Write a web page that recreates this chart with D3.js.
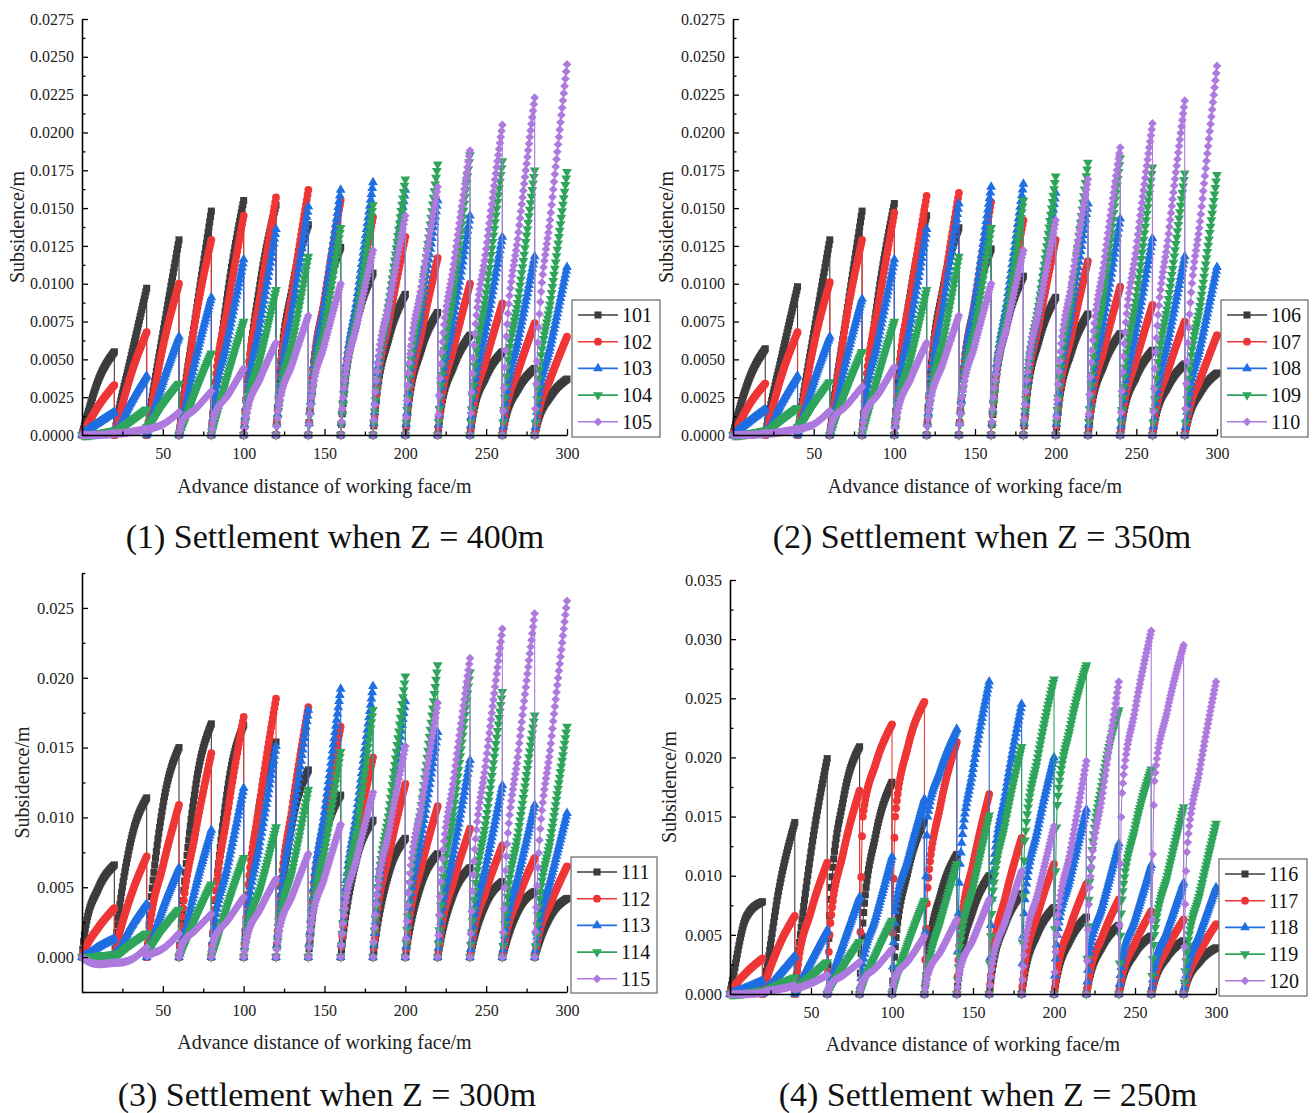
<!DOCTYPE html>
<html><head><meta charset="utf-8">
<script src="https://cdn.jsdelivr.net/npm/d3@7"></script>
<style>body{margin:0;background:#fff}</style>
</head><body>
<svg id="chart" width="1314" height="1113"></svg>
<script>
// ---------- shared structure ----------
const knotOffsets = [0, 2, 10, 20];          // offsets (m) of start / early / mid / peak inside each 20 m step
const stepLength = 20;
const xTicks = [50, 100, 150, 200, 250, 300];
const xTickLabels = ["50", "100", "150", "200", "250", "300"];
const xMinorTicks = [25, 75, 125, 175, 225, 275];
const yTicks12 = [0, 0.0025, 0.005, 0.0075, 0.01, 0.0125, 0.015, 0.0175, 0.02, 0.0225, 0.025, 0.0275];
const yTickLabels12 = ["0.0000","0.0025","0.0050","0.0075","0.0100","0.0125","0.0150","0.0175","0.0200","0.0225","0.0250","0.0275"];
const yMinor12 = [0.00125,0.00375,0.00625,0.00875,0.01125,0.01375,0.01625,0.01875,0.02125,0.02375,0.02625];
const yTicks3 = [0, 0.005, 0.01, 0.015, 0.02, 0.025];
const yTickLabels3 = ["0.000","0.005","0.010","0.015","0.020","0.025"];
const yMinor3 = [-0.0025, 0.0025, 0.0075, 0.0125, 0.0175, 0.0225, 0.0275];
const yTicks4 = [0, 0.005, 0.01, 0.015, 0.02, 0.025, 0.03, 0.035];
const yTickLabels4 = ["0.000","0.005","0.010","0.015","0.020","0.025","0.030","0.035"];
const yMinor4 = [0.0025, 0.0075, 0.0125, 0.0175, 0.0225, 0.0275, 0.0325];
const captions = ["(1) Settlement when Z = 400m", "(2) Settlement when Z = 350m", "(3) Settlement when Z = 300m", "(4) Settlement when Z = 250m"];
const names1 = ["101","102","103","104","105"];
const names2 = ["106","107","108","109","110"];
const names3 = ["111","112","113","114","115"];
const names4 = ["116","117","118","119","120"];
const Z0 = [0,0,0,0,0,0,0,0,0,0,0,0,0,0,0];

// ---------- Panel 1 (Z = 400 m) ----------
const s101 = Z0;
const e101 = [0.0008,0.0012,0.0015,0.0018,0.0023,0.0030,0.0035,0.0031,0.0027,0.0023,0.0020,0.0017,0.0014,0.0011,0.0009];
const m101 = [0.0036,0.0050,0.0067,0.0077,0.0093,0.0099,0.0097,0.0087,0.0075,0.0065,0.0057,0.0046,0.0039,0.0031,0.0026];
const p101 = [0.0055,0.0097,0.0129,0.0148,0.0155,0.0152,0.0139,0.0124,0.0107,0.0093,0.0081,0.0066,0.0055,0.0044,0.0037];
const s102 = Z0;
const e102 = [0.0004,0.0008,0.0012,0.0015,0.0029,0.0031,0.0032,0.0031,0.0029,0.0026,0.0023,0.0020,0.0017,0.0015,0.0013];
const m102 = [0.0019,0.0039,0.0058,0.0075,0.0084,0.0091,0.0094,0.0090,0.0084,0.0076,0.0068,0.0058,0.0050,0.0043,0.0038];
const p102 = [0.0033,0.0068,0.0100,0.0129,0.0145,0.0157,0.0162,0.0155,0.0144,0.0131,0.0117,0.0100,0.0087,0.0074,0.0065];
const s103 = [0,0.0002,0,0,0,0,0,0,0,0,0,0,0,0,0];
const e103 = [0.0002,0.0004,0.0007,0.0009,0.0021,0.0024,0.0027,0.0029,0.0030,0.0029,0.0028,0.0026,0.0024,0.0021,0.0020];
const m103 = [0.0008,0.0021,0.0035,0.0049,0.0063,0.0073,0.0082,0.0087,0.0090,0.0087,0.0084,0.0078,0.0071,0.0064,0.0060];
const p103 = [0.0015,0.0039,0.0065,0.0091,0.0116,0.0136,0.0151,0.0162,0.0167,0.0162,0.0155,0.0145,0.0131,0.0118,0.0111];
const s104 = [0,0.0002,0.0005,0,0,0,0,0,0,0,0,0,0,0,0];
const e104 = [0.0000,0.0003,0.0007,0.0005,0.0008,0.0017,0.0021,0.0025,0.0027,0.0030,0.0032,0.0033,0.0033,0.0032,0.0031];
const m104 = [0.0001,0.0009,0.0020,0.0028,0.0039,0.0050,0.0061,0.0071,0.0079,0.0088,0.0093,0.0096,0.0094,0.0091,0.0090];
const p104 = [0.0003,0.0017,0.0034,0.0054,0.0075,0.0096,0.0118,0.0137,0.0152,0.0169,0.0179,0.0185,0.0181,0.0175,0.0174];
const s105 = [0,0.0001,0.0003,0,0,0,0,0,0,0,0,0,0,0,0];
const e105 = [0.0000,0.0001,0.0004,0.0009,0.0013,0.0015,0.0020,0.0025,0.0031,0.0036,0.0041,0.0047,0.0051,0.0056,0.0061];
const m105 = [0.0000,0.0002,0.0007,0.0017,0.0026,0.0037,0.0047,0.0060,0.0073,0.0087,0.0098,0.0113,0.0123,0.0134,0.0147];
const p105 = [0.0001,0.0004,0.0015,0.0029,0.0044,0.0061,0.0079,0.0100,0.0122,0.0145,0.0164,0.0188,0.0205,0.0223,0.0245];

// ---------- Panel 2 (Z = 350 m) ----------
const s106 = Z0;
const e106 = [0.0009,0.0012,0.0015,0.0018,0.0023,0.0029,0.0034,0.0031,0.0026,0.0023,0.0020,0.0017,0.0014,0.0012,0.0010];
const m106 = [0.0037,0.0051,0.0067,0.0077,0.0092,0.0094,0.0096,0.0086,0.0074,0.0064,0.0056,0.0047,0.0039,0.0033,0.0029];
const p106 = [0.0057,0.0098,0.0129,0.0148,0.0153,0.0145,0.0137,0.0123,0.0105,0.0091,0.0080,0.0067,0.0056,0.0047,0.0041];
const s107 = Z0;
const e107 = [0.0004,0.0008,0.0012,0.0015,0.0029,0.0032,0.0032,0.0031,0.0028,0.0026,0.0023,0.0020,0.0017,0.0015,0.0013];
const m107 = [0.0020,0.0039,0.0059,0.0075,0.0085,0.0092,0.0093,0.0089,0.0082,0.0075,0.0067,0.0057,0.0050,0.0044,0.0038];
const p107 = [0.0034,0.0068,0.0101,0.0129,0.0147,0.0158,0.0160,0.0154,0.0142,0.0129,0.0115,0.0098,0.0086,0.0075,0.0066];
const s108 = [0,0.0002,0,0,0,0,0,0,0,0,0,0,0,0,0];
const e108 = [0.0002,0.0004,0.0007,0.0009,0.0021,0.0024,0.0028,0.0030,0.0030,0.0029,0.0028,0.0026,0.0023,0.0021,0.0020];
const m108 = [0.0009,0.0021,0.0035,0.0049,0.0063,0.0073,0.0083,0.0089,0.0090,0.0086,0.0083,0.0077,0.0070,0.0064,0.0060];
const p108 = [0.0017,0.0039,0.0065,0.0090,0.0116,0.0136,0.0153,0.0164,0.0166,0.0160,0.0153,0.0143,0.0130,0.0118,0.0111];
const s109 = [0,0.0002,0.0005,0,0,0,0,0,0,0,0,0,0,0,0];
const e109 = [0.0000,0.0003,0.0007,0.0006,0.0008,0.0017,0.0021,0.0025,0.0028,0.0031,0.0032,0.0033,0.0032,0.0031,0.0031];
const m109 = [0.0001,0.0010,0.0020,0.0029,0.0039,0.0050,0.0061,0.0071,0.0081,0.0089,0.0094,0.0095,0.0092,0.0090,0.0089];
const p109 = [0.0003,0.0018,0.0035,0.0055,0.0075,0.0096,0.0118,0.0137,0.0155,0.0171,0.0180,0.0183,0.0177,0.0173,0.0172];
const s110 = [0,0.0001,0.0003,0,0,0,0,0,0,0,0,0,0,0,0];
const e110 = [0.0000,0.0001,0.0004,0.0010,0.0014,0.0015,0.0020,0.0025,0.0031,0.0036,0.0042,0.0048,0.0052,0.0055,0.0061];
const m110 = [0.0000,0.0002,0.0007,0.0019,0.0027,0.0037,0.0047,0.0060,0.0073,0.0085,0.0101,0.0114,0.0124,0.0133,0.0146];
const p110 = [0.0001,0.0004,0.0016,0.0032,0.0045,0.0061,0.0079,0.0100,0.0122,0.0142,0.0169,0.0190,0.0206,0.0221,0.0244];

// ---------- Panel 3 (Z = 300 m) ----------
const s111 = Z0;
const e111 = [0.0020,0.0023,0.0030,0.0033,0.0033,0.0031,0.0027,0.0023,0.0020,0.0017,0.0015,0.0013,0.0011,0.0009,0.0008];
const m111 = [0.0049,0.0082,0.0108,0.0120,0.0120,0.0111,0.0096,0.0084,0.0071,0.0061,0.0053,0.0046,0.0039,0.0034,0.0030];
const p111 = [0.0066,0.0114,0.0150,0.0167,0.0166,0.0154,0.0134,0.0116,0.0098,0.0085,0.0074,0.0064,0.0054,0.0047,0.0042];
const s112 = Z0;
const e112 = [0.0006,0.0011,0.0022,0.0029,0.0034,0.0037,0.0036,0.0033,0.0029,0.0025,0.0022,0.0018,0.0016,0.0014,0.0013];
const m112 = [0.0021,0.0043,0.0065,0.0088,0.0103,0.0111,0.0107,0.0099,0.0086,0.0074,0.0065,0.0055,0.0048,0.0043,0.0039];
const p112 = [0.0035,0.0072,0.0109,0.0146,0.0172,0.0185,0.0179,0.0165,0.0143,0.0124,0.0108,0.0092,0.0080,0.0071,0.0065];
const s113 = [0,0.0002,0,0,0,0,0,0,0,0,0,0,0,0,0];
const e113 = [0.0001,0.0004,0.0007,0.0009,0.0022,0.0027,0.0032,0.0035,0.0035,0.0033,0.0029,0.0025,0.0022,0.0020,0.0019];
const m113 = [0.0007,0.0021,0.0035,0.0049,0.0065,0.0082,0.0096,0.0104,0.0105,0.0099,0.0087,0.0076,0.0066,0.0059,0.0056];
const p113 = [0.0013,0.0038,0.0064,0.0091,0.0121,0.0151,0.0177,0.0192,0.0194,0.0183,0.0161,0.0141,0.0123,0.0109,0.0103];
const s114 = [0,0.0001,0.0005,0,0,0,0,0,0,0,0,0,0,0,0];
const e114 = [0.0000,0.0002,0.0007,0.0005,0.0007,0.0017,0.0022,0.0026,0.0032,0.0036,0.0038,0.0037,0.0034,0.0031,0.0030];
const m114 = [0.0001,0.0009,0.0020,0.0027,0.0037,0.0048,0.0062,0.0076,0.0092,0.0105,0.0109,0.0106,0.0099,0.0090,0.0086];
const p114 = [0.0002,0.0017,0.0034,0.0052,0.0071,0.0093,0.0120,0.0147,0.0177,0.0201,0.0209,0.0204,0.0190,0.0173,0.0165];
const s115 = [0,-0.0004,0.0001,0,0,0,0,0,0,0,0,0,0,0,0];
const e115 = [-0.0002,-0.0004,0.0002,0.0009,0.0013,0.0014,0.0019,0.0024,0.0030,0.0038,0.0046,0.0054,0.0059,0.0062,0.0064];
const m115 = [-0.0005,-0.0002,0.0006,0.0019,0.0026,0.0034,0.0044,0.0057,0.0071,0.0091,0.0109,0.0128,0.0141,0.0148,0.0153];
const p115 = [-0.0004,0.0007,0.0017,0.0031,0.0043,0.0056,0.0074,0.0095,0.0118,0.0151,0.0182,0.0214,0.0235,0.0246,0.0255];

// ---------- Panel 4 (Z = 250 m) ----------
const s116 = Z0;
const e116 = [0.0015,0.0015,0.0030,0.0080,0.0060,0.0040,0.0030,0.0025,0.0021,0.0018,0.0016,0.0014,0.0012,0.0011,0.0010];
const m116 = [0.0065,0.0087,0.0120,0.0165,0.0135,0.0105,0.0084,0.0071,0.0060,0.0052,0.0046,0.0041,0.0035,0.0032,0.0028];
const p116 = [0.0078,0.0145,0.0199,0.0209,0.0179,0.0147,0.0118,0.0100,0.0085,0.0073,0.0065,0.0058,0.0049,0.0045,0.0039];
const s117 = Z0;
const e117 = [0.0005,0.0010,0.0025,0.0060,0.0150,0.0150,0.0090,0.0050,0.0030,0.0024,0.0020,0.0017,0.0015,0.0013,0.0012];
const m117 = [0.0018,0.0040,0.0070,0.0120,0.0195,0.0210,0.0160,0.0110,0.0082,0.0068,0.0057,0.0049,0.0043,0.0039,0.0036];
const p117 = [0.0030,0.0066,0.0111,0.0172,0.0228,0.0247,0.0213,0.0169,0.0132,0.0110,0.0093,0.0080,0.0070,0.0063,0.0059];
const s118 = Z0;
const e118 = [0.0001,0.0003,0.0006,0.0010,0.0025,0.0070,0.0150,0.0110,0.0095,0.0080,0.0050,0.0035,0.0028,0.0022,0.0020];
const m118 = [0.0005,0.0016,0.0028,0.0043,0.0065,0.0115,0.0190,0.0190,0.0170,0.0140,0.0098,0.0075,0.0063,0.0054,0.0051];
const p118 = [0.0011,0.0032,0.0054,0.0082,0.0116,0.0165,0.0224,0.0264,0.0245,0.0200,0.0156,0.0127,0.0109,0.0094,0.0090];
const s119 = [0,0.0002,0.0004,0,0,0,0,0,0,0,0,0,0,0,0];
const e119 = [0.0000,0.0003,0.0006,0.0005,0.0008,0.0010,0.0020,0.0040,0.0080,0.0130,0.0160,0.0095,0.0080,0.0050,0.0035];
const m119 = [0.0001,0.0008,0.0015,0.0023,0.0033,0.0043,0.0062,0.0090,0.0145,0.0200,0.0225,0.0180,0.0140,0.0100,0.0085];
const p119 = [0.0003,0.0014,0.0027,0.0044,0.0062,0.0079,0.0110,0.0151,0.0209,0.0266,0.0278,0.0240,0.0190,0.0158,0.0144];
const s120 = [0,0.0001,0.0004,0,0,0,0,0,0,0,0,0,0,0,0];
const e120 = [0.0000,0.0002,0.0005,0.0008,0.0011,0.0014,0.0016,0.0020,0.0026,0.0040,0.0060,0.0090,0.0170,0.0180,0.0120];
const m120 = [0.0000,0.0004,0.0009,0.0016,0.0022,0.0028,0.0036,0.0046,0.0062,0.0085,0.0120,0.0170,0.0240,0.0240,0.0190];
const p120 = [0.0001,0.0007,0.0016,0.0027,0.0038,0.0049,0.0063,0.0080,0.0104,0.0142,0.0197,0.0264,0.0307,0.0295,0.0264];

// ---------- styling ----------
const FONT = "'Liberation Serif','Times New Roman',serif";
const colors = ["#3c3c3c", "#ef3636", "#1f6ee2", "#2fa55b", "#ae7ade"];
const symbolDefs = [
  {type: d3.symbolSquare, size: 50, rot: 0},
  {type: d3.symbolCircle, size: 48, rot: 0},
  {type: d3.symbolTriangle, size: 42, rot: 0},
  {type: d3.symbolTriangle, size: 42, rot: 180},
  {type: d3.symbolSquare, size: 38, rot: 45}
];
const symPaths = symbolDefs.map(s => d3.symbol().type(s.type).size(s.size)());

const panels = [
  {names: names1, series: [[s101,e101,m101,p101],[s102,e102,m102,p102],[s103,e103,m103,p103],[s104,e104,m104,p104],[s105,e105,m105,p105]],
   left: 82, right: 567, top: 19, bottom: 435, yDomain: [0, 0.0275], yTicks: yTicks12, yLabels: yTickLabels12, yMinor: yMinor12, yFont: 16,
   legend: {x: 572, y: 300, w: 88, h: 137}, caption: captions[0], capX: 335, capY: 548, yTitleX: 24, xTitleY: 493},
  {names: names2, series: [[s106,e106,m106,p106],[s107,e107,m107,p107],[s108,e108,m108,p108],[s109,e109,m109,p109],[s110,e110,m110,p110]],
   left: 733, right: 1217, top: 19, bottom: 435, yDomain: [0, 0.0275], yTicks: yTicks12, yLabels: yTickLabels12, yMinor: yMinor12, yFont: 16,
   legend: {x: 1221, y: 300, w: 87, h: 137}, caption: captions[1], capX: 982, capY: 548, yTitleX: 673, xTitleY: 493},
  {names: names3, series: [[s111,e111,m111,p111],[s112,e112,m112,p112],[s113,e113,m113,p113],[s114,e114,m114,p114],[s115,e115,m115,p115]],
   left: 82, right: 567, top: 573, bottom: 992, yDomain: [-0.0025, 0.0275], yTicks: yTicks3, yLabels: yTickLabels3, yMinor: yMinor3, yFont: 16.5,
   legend: {x: 571, y: 857, w: 86, h: 136}, caption: captions[2], capX: 327, capY: 1106, yTitleX: 29, xTitleY: 1049},
  {names: names4, series: [[s116,e116,m116,p116],[s117,e117,m117,p117],[s118,e118,m118,p118],[s119,e119,m119,p119],[s120,e120,m120,p120]],
   left: 730, right: 1216, top: 580, bottom: 994, yDomain: [0, 0.035], yTicks: yTicks4, yLabels: yTickLabels4, yMinor: yMinor4, yFont: 16.5,
   legend: {x: 1219, y: 859, w: 88, h: 137}, caption: captions[3], capX: 988, capY: 1106, yTitleX: 676, xTitleY: 1051}
];

// Same tangent rule as d3.curveMonotoneX, so markers sit on the drawn curve
function sgn(v) { return v < 0 ? -1 : 1; }
function monoTangents(xs, ys) {
  const n = xs.length, s = [], t = new Array(n);
  for (let i = 0; i < n - 1; i++) s.push((ys[i+1] - ys[i]) / (xs[i+1] - xs[i]));
  for (let i = 1; i < n - 1; i++) {
    const h0 = xs[i] - xs[i-1], h1 = xs[i+1] - xs[i];
    const p = (s[i-1] * h1 + s[i] * h0) / (h0 + h1);
    t[i] = (sgn(s[i-1]) + sgn(s[i])) * Math.min(Math.abs(s[i-1]), Math.abs(s[i]), 0.5 * Math.abs(p)) || 0;
  }
  t[0] = (3 * s[0] - t[1]) / 2;
  t[n-1] = (3 * s[n-2] - t[n-2]) / 2;
  return t;
}
function hermiteAt(xs, ys, t, xv) {
  let i = 0;
  while (i < xs.length - 2 && xv > xs[i+1]) i++;
  const h = xs[i+1] - xs[i], u = (xv - xs[i]) / h;
  const u2 = u*u, u3 = u2*u;
  return (2*u3 - 3*u2 + 1) * ys[i] + (u3 - 2*u2 + u) * h * t[i] + (-2*u3 + 3*u2) * ys[i+1] + (u3 - u2) * h * t[i+1];
}

const svg = d3.select("#chart");
svg.append("rect").attr("width", 1314).attr("height", 1113).attr("fill", "#fff");

panels.forEach(pn => {
  const g = svg.append("g");
  const x = d3.scaleLinear().domain([0, 300]).range([pn.left, pn.right]);
  const y = d3.scaleLinear().domain(pn.yDomain).range([pn.bottom, pn.top]);
  const line = d3.line().x(d => x(d[0])).y(d => y(d[1])).curve(d3.curveMonotoneX);

  pn.series.forEach((arrs, si) => {
    const [st, ea, mi, pk] = arrs;
    let dStr = "";
    const pts = [];
    for (let k = 0; k < pk.length; k++) {
      const xs = knotOffsets.map(o => k * stepLength + o);
      const ys = [st[k], ea[k], mi[k], pk[k]];
      let seg = line(xs.map((xv, j) => [xv, ys[j]]));
      if (k > 0) seg = "L" + seg.slice(1);
      dStr += seg;
      const tg = monoTangents(xs, ys);
      for (let j = 0; j <= 40; j++) {
        const xv = k * stepLength + j * 0.5;
        pts.push([xv, hermiteAt(xs, ys, tg, xv)]);
      }
    }
    g.append("path").attr("d", dStr).attr("fill", "none")
      .attr("stroke", colors[si]).attr("stroke-width", 1.1);
    const rot = symbolDefs[si].rot;
    g.append("g").selectAll("path").data(pts).join("path")
      .attr("d", symPaths[si])
      .attr("transform", d => `translate(${x(d[0]).toFixed(2)},${y(d[1]).toFixed(2)})` + (rot ? ` rotate(${rot})` : ""))
      .attr("fill", colors[si]);
  });

  // axes
  const yAxis = d3.axisLeft(y).tickValues(pn.yTicks).tickFormat((d, i) => pn.yLabels[i]).tickSize(-6).tickSizeOuter(0).tickPadding(8);
  const yAxisMinor = d3.axisLeft(y).tickValues(pn.yMinor).tickFormat("").tickSize(-3.5).tickSizeOuter(0);
  const xAxis = d3.axisBottom(x).tickValues(xTicks).tickFormat((d, i) => xTickLabels[i]).tickSize(-6).tickSizeOuter(0).tickPadding(13);
  const xAxisMinor = d3.axisBottom(x).tickValues(xMinorTicks).tickFormat("").tickSize(-3.5).tickSizeOuter(0);

  const ag = g.append("g").attr("transform", `translate(${pn.left},0)`).call(yAxis);
  g.append("g").attr("transform", `translate(${pn.left},0)`).call(yAxisMinor).call(a => a.select(".domain").remove());
  const bg = g.append("g").attr("transform", `translate(0,${pn.bottom})`).call(xAxis);
  g.append("g").attr("transform", `translate(0,${pn.bottom})`).call(xAxisMinor).call(a => a.select(".domain").remove());
  [ag, bg].forEach(a => {
    a.select(".domain").attr("stroke", "#000").attr("stroke-width", 1.6);
    a.selectAll(".tick text").attr("font-family", FONT).attr("font-size", pn.yFont).attr("fill", "#222");
  });
  bg.selectAll(".tick text").attr("font-size", 16);
  g.selectAll(".tick line").attr("stroke", "#000").attr("stroke-width", 1.3);

  // axis titles
  g.append("text").attr("transform", `translate(${pn.yTitleX},${(pn.top + pn.bottom) / 2}) rotate(-90)`)
    .attr("text-anchor", "middle").attr("font-family", FONT).attr("font-size", 20).attr("fill", "#222")
    .text("Subsidence/m");
  g.append("text").attr("x", (pn.left + pn.right) / 2).attr("y", pn.xTitleY)
    .attr("text-anchor", "middle").attr("font-family", FONT).attr("font-size", 20).attr("fill", "#222")
    .text("Advance distance of working face/m");
  g.append("text").attr("x", pn.capX).attr("y", pn.capY)
    .attr("text-anchor", "middle").attr("font-family", FONT).attr("font-size", 34).attr("fill", "#111")
    .text(pn.caption);

  // legend
  const L = pn.legend;
  const lg = g.append("g");
  lg.append("rect").attr("x", L.x).attr("y", L.y).attr("width", L.w).attr("height", L.h)
    .attr("fill", "#fff").attr("stroke", "#666").attr("stroke-width", 1.2);
  pn.names.forEach((nm, i) => {
    const ry = L.y + 15 + i * 26.7;
    lg.append("line").attr("x1", L.x + 6).attr("x2", L.x + 46).attr("y1", ry).attr("y2", ry)
      .attr("stroke", colors[i]).attr("stroke-width", 1.6);
    lg.append("path").attr("d", symPaths[i])
      .attr("transform", `translate(${L.x + 26},${ry})` + (symbolDefs[i].rot ? ` rotate(${symbolDefs[i].rot})` : ""))
      .attr("fill", colors[i]);
    lg.append("text").attr("x", L.x + 50).attr("y", ry + 7).attr("font-family", FONT).attr("font-size", 20)
      .attr("fill", "#111").text(nm);
  });
});
</script>
</body></html>
